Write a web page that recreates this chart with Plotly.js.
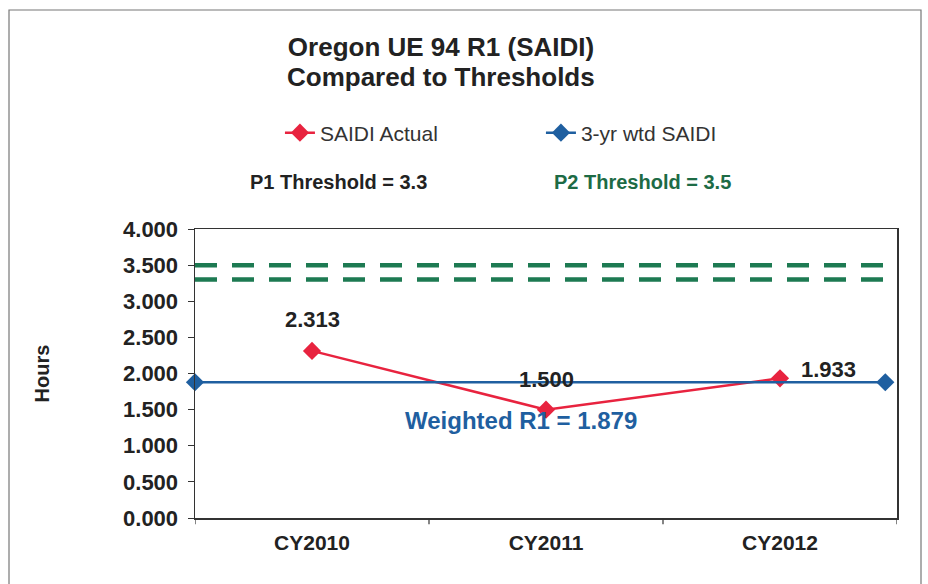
<!DOCTYPE html>
<html>
<head>
<meta charset="utf-8">
<script src="https://cdn.plot.ly/plotly-3.0.1.min.js"></script>
<style>html,body{margin:0;padding:0;background:#fff;}#chart{width:928px;height:584px;}</style>
</head>
<body>
<div id="chart"></div>
<script>
const categories = ['CY2010', 'CY2011', 'CY2012'];
const saidiActual = [2.313, 1.500, 1.933];
const weightedSaidi = 1.879;
const p1Threshold = 3.3;
const p2Threshold = 3.5;
const yTicks = [0, 0.5, 1, 1.5, 2, 2.5, 3, 3.5, 4];
const titleLines = ['Oregon UE 94 R1 (SAIDI)', 'Compared to Thresholds'];

const idx = categories.map((c, i) => i);
const xStart = -0.5, xEnd = categories.length - 0.5;
const font = 'Liberation Sans, Arial, sans-serif';

const traces = [
  {
    x: idx, y: saidiActual, name: 'SAIDI Actual', type: 'scatter', mode: 'lines+markers',
    line: {color: '#e8233f', width: 2.5},
    marker: {symbol: 'diamond', size: 14, color: '#e8233f'},
    cliponaxis: false
  },
  {
    x: [xStart, xEnd - 0.05], y: [weightedSaidi, weightedSaidi], name: '3-yr wtd SAIDI', type: 'scatter', mode: 'lines+markers',
    line: {color: '#1f5fa0', width: 2.5},
    marker: {symbol: 'diamond', size: 14, color: '#1f5fa0'},
    cliponaxis: false
  },
  {
    x: [xStart, xEnd], y: [p2Threshold, p2Threshold], type: 'scatter', mode: 'lines', showlegend: false,
    line: {color: '#1d7a52', width: 4.5, dash: '22px,15px'}, hoverinfo: 'skip'
  },
  {
    x: [xStart, xEnd], y: [p1Threshold, p1Threshold], type: 'scatter', mode: 'lines', showlegend: false,
    line: {color: '#1d7a52', width: 4.5, dash: '22px,15px'}, hoverinfo: 'skip'
  }
];

const labelOffsets = [[0, -31], [0, -30], [48, -9]];
const annotations = saidiActual.map((v, i) => ({
  x: idx[i], y: v, xref: 'x', yref: 'y', text: '<b>' + v.toFixed(3) + '</b>', showarrow: false,
  xshift: labelOffsets[i][0], yshift: -labelOffsets[i][1],
  font: {family: font, size: 22, color: '#222'}
}));
annotations.push(
  {x: 1, y: weightedSaidi, xref: 'x', yref: 'y', text: '<b>Weighted R1 = ' + weightedSaidi.toFixed(3) + '</b>',
   showarrow: false, yshift: -38, xshift: -25, font: {family: font, size: 24, color: '#1f5fa0'}},
  {x: 0.205, y: 1.163, xref: 'paper', yref: 'paper', xanchor: 'center', yanchor: 'middle',
   text: '<b>P1 Threshold = ' + p1Threshold + '</b>',
   showarrow: false, font: {family: font, size: 20, color: '#222'}},
  {x: 0.637, y: 1.163, xref: 'paper', yref: 'paper', xanchor: 'center', yanchor: 'middle',
   text: '<b>P2 Threshold = ' + p2Threshold + '</b>',
   showarrow: false, font: {family: font, size: 20, color: '#1d6b45'}},
  {x: (441 - 195) / 702, y: (518 - 77) / 289, xref: 'paper', yref: 'paper', xanchor: 'center', yanchor: 'middle',
   text: '<b>' + titleLines[1] + '</b>', showarrow: false, font: {family: font, size: 26, color: '#222'}}
);

const layout = {
  width: 928, height: 584,
  margin: {l: 195, r: 31, t: 229, b: 66},
  paper_bgcolor: '#ffffff', plot_bgcolor: '#ffffff',
  font: {family: font, color: '#222'},
  title: {
    text: '<b>' + titleLines[0] + '</b>',
    x: 441 / 928, xanchor: 'center', y: 1 - 47 / 584, yanchor: 'middle',
    font: {family: font, size: 26, color: '#222'}
  },
  showlegend: true,
  legend: {
    orientation: 'h', x: 0.121, xanchor: 'left', y: 1.332, yanchor: 'middle',
    font: {family: font, size: 21, color: '#333'},
    entrywidth: 216, bgcolor: 'rgba(0,0,0,0)'
  },
  xaxis: {
    range: [xStart, xEnd], tickmode: 'array', tickvals: idx, ticktext: categories.map(c => '<b>' + c + '</b>'),
    showgrid: false, zeroline: false, showline: true, linecolor: '#333', linewidth: 1.5, mirror: true,
    ticks: '', ticklabelstandoff: 5, tickfont: {family: font, size: 21, color: '#222'}, fixedrange: true
  },
  yaxis: {
    range: [0, 4], tickmode: 'array', tickvals: yTicks, ticktext: yTicks.map(v => '<b>' + v.toFixed(3) + '</b>'),
    showgrid: false, zeroline: false, showline: true, linecolor: '#333', linewidth: 1.5, mirror: true,
    ticks: 'outside', ticklen: 6, tickcolor: '#333', ticklabelstandoff: 5,
    tickfont: {family: font, size: 22, color: '#222'},
    title: {text: '<b>Hours</b>', font: {family: font, size: 20, color: '#222'}, standoff: 68}
  },
  shapes: [
    ...[0.5, 1.5].map(v => ({type: 'line', xref: 'x', yref: 'paper', x0: v, x1: v, y0: 0, y1: -0.022, line: {color: '#333', width: 1.2}})),
    ...[xStart, xEnd].map(v => ({type: 'line', xref: 'x', yref: 'paper', x0: v, x1: v, y0: 0, y1: -0.022, line: {color: '#333', width: 1.2}})),
    {type: 'rect', xref: 'paper', yref: 'paper', x0: -186 / 702, x1: 1 + 24 / 702, y0: -80 / 289, y1: 1 + 219 / 289, line: {color: '#777', width: 1.2}}
  ],
  annotations: annotations
};

Plotly.newPlot('chart', traces, layout, {displayModeBar: false, staticPlot: true});
</script>
</body>
</html>
